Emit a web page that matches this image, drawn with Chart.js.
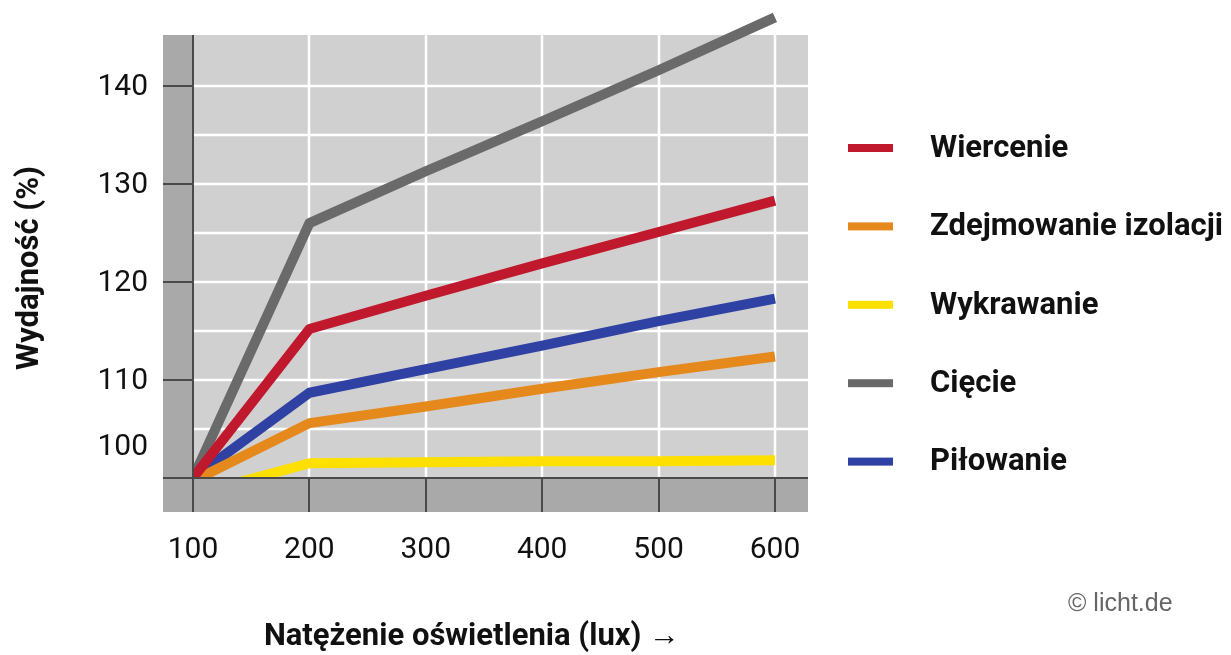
<!DOCTYPE html>
<html lang="pl">
<head>
<meta charset="utf-8">
<title>Wydajność a natężenie oświetlenia</title>
<script src="https://cdn.jsdelivr.net/npm/chart.js@4.4.1/dist/chart.umd.min.js"></script>
<style>
  html, body { margin: 0; padding: 0; background: #fff; }
  #wykres { display: block; }
</style>
</head>
<body>
<canvas id="wykres" width="1231" height="655"></canvas>
<script>
// Natężenie oświetlenia (lux)
const lux = [100, 200, 300, 400, 500, 600];

// Wydajność (%) dla poszczególnych czynności
const wiercenie   = [100, 115.2, 118.6, 121.9, 125.1, 128.3];
const zdejmowanie = [99.7, 105.6, 107.3, 109.1, 110.8, 112.4];
const wykrawanie  = [98.3, 101.5, 101.6, 101.7, 101.7, 101.8];
const ciecie      = [100, 126.0, 131.3, 136.4, 141.6, 147.0];
const pilowanie   = [100, 108.7, 111.1, 113.5, 116.0, 118.3];

const nazwy  = ['Wiercenie', 'Zdejmowanie izolacji', 'Wykrawanie', 'Cięcie', 'Piłowanie'];
const serie  = [wiercenie, zdejmowanie, wykrawanie, ciecie, pilowanie];
const kolory = ['#c0182d', '#e5891c', '#fde000', '#6a6a6a', '#2f41a3'];

// Podziałki osi
const xTicks = [100, 200, 300, 400, 500, 600];
const yTicks = [100, 110, 120, 130, 140];
const yGrid  = [105, 110, 115, 120, 125, 130, 135, 140];

const FONT = 'Roboto, "Noto Sans", sans-serif';

// tło wykresu, siatka, pasy osi, opisy i legenda
const tloWykresu = {
  id: 'tloWykresu',
  beforeDatasetsDraw(chart) {
    const { ctx, chartArea: a, scales: { x, y } } = chart;
    const x0 = x.getPixelForValue(100);
    const y0 = y.getPixelForValue(100);
    ctx.save();
    ctx.fillStyle = '#d0d0d0';
    ctx.fillRect(a.left, a.top, a.right - a.left, a.bottom - a.top);

    ctx.strokeStyle = '#ffffff';
    ctx.lineWidth = 2.5;
    yGrid.forEach(v => {
      const py = Math.round(y.getPixelForValue(v));
      ctx.beginPath();
      ctx.moveTo(x0, py);
      ctx.lineTo(a.right, py);
      ctx.stroke();
    });
    xTicks.slice(1).forEach(v => {
      const px = Math.round(x.getPixelForValue(v));
      ctx.beginPath();
      ctx.moveTo(px, a.top);
      ctx.lineTo(px, y0);
      ctx.stroke();
    });
    ctx.restore();
  },
  afterDatasetsDraw(chart) {
    const { ctx, chartArea: a, scales: { x, y } } = chart;
    const x0 = Math.round(x.getPixelForValue(100));
    const y0 = Math.round(y.getPixelForValue(100));
    ctx.save();

    // ciemniejsze pasy przy osiach
    ctx.fillStyle = '#a9a9a9';
    ctx.fillRect(a.left, a.top, x0 - a.left, a.bottom - a.top);
    ctx.fillRect(a.left, y0, a.right - a.left, a.bottom - y0);

    ctx.strokeStyle = '#4a4a4a';
    ctx.lineWidth = 2;
    ctx.beginPath();
    ctx.moveTo(a.left, y0);
    ctx.lineTo(a.right, y0);
    ctx.moveTo(x0, a.top);
    ctx.lineTo(x0, a.bottom);
    xTicks.forEach(v => {
      const px = Math.round(x.getPixelForValue(v));
      ctx.moveTo(px, y0);
      ctx.lineTo(px, a.bottom);
    });
    yTicks.slice(1).forEach(v => {
      const py = Math.round(y.getPixelForValue(v));
      ctx.moveTo(a.left, py);
      ctx.lineTo(x0, py);
    });
    ctx.stroke();

    // opisy podziałek
    ctx.fillStyle = '#111';
    ctx.font = '30px ' + FONT;
    ctx.textAlign = 'center';
    ctx.textBaseline = 'middle';
    xTicks.forEach(v => ctx.fillText(String(v), x.getPixelForValue(v), 550));

    ctx.textAlign = 'right';
    yTicks.forEach(v => {
      // etykieta 100 leży nad pasem osi
      const py = v === 100 ? y0 - 31 : y.getPixelForValue(v) + 2;
      ctx.fillText(String(v), 148, py);
    });

    // tytuły osi
    ctx.font = 'bold 31px ' + FONT;
    ctx.textAlign = 'center';
    ctx.fillText('Natężenie oświetlenia (lux) →', 472, 637);
    ctx.save();
    ctx.translate(30, 268);
    ctx.rotate(-Math.PI / 2);
    ctx.fillText('Wydajność (%)', 0, 0);
    ctx.restore();

    // legenda
    ctx.font = 'bold 31px ' + FONT;
    ctx.textAlign = 'left';
    nazwy.forEach((n, i) => {
      const py = 148 + i * 78.4;
      ctx.fillStyle = kolory[i];
      ctx.fillRect(848, py - 4, 45, 8);
      ctx.fillStyle = '#111';
      ctx.fillText(n, 930, py + 1);
    });

    // źródło
    ctx.filter = 'blur(0.6px)';
    ctx.font = '25px "Liberation Sans", Arial, sans-serif';
    ctx.fillStyle = '#666';
    ctx.fillText('© licht.de', 1068, 604);
    ctx.restore();
  }
};

new Chart(document.getElementById('wykres'), {
  type: 'line',
  data: {
    datasets: nazwy.map((n, i) => ({
      label: n,
      data: lux.map((l, j) => ({ x: l, y: serie[i][j] })),
      borderColor: kolory[i],
      backgroundColor: kolory[i],
      borderWidth: 10,
      borderCapStyle: 'butt',
      borderJoinStyle: 'round',
      pointRadius: 0,
      tension: 0,
      clip: false
    }))
  },
  options: {
    responsive: false,
    animation: false,
    layout: { padding: { left: 163, right: 423, top: 35, bottom: 143 } },
    plugins: {
      legend: { display: false },
      tooltip: { enabled: false }
    },
    scales: {
      x: { type: 'linear', min: 74.2, max: 628.4, display: false },
      y: { type: 'linear', min: 96.53, max: 145.2, display: false }
    }
  },
  plugins: [tloWykresu]
});
</script>
</body>
</html>
